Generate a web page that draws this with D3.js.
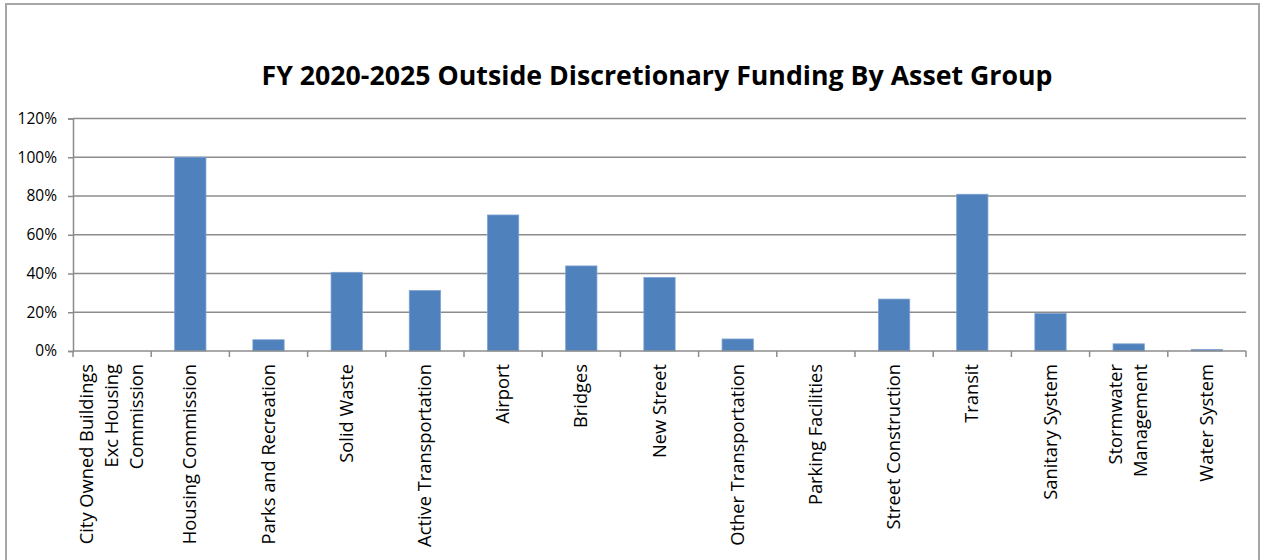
<!DOCTYPE html>
<html>
<head>
<meta charset="utf-8">
<script src="https://cdn.jsdelivr.net/npm/d3@7"></script>
<style>
  body { margin: 0; background: #fff; }
  text { font-family: "Open Sans", "Noto Sans", sans-serif; fill: #000; }
</style>
</head>
<body>
<svg id="chart" width="1265" height="560"></svg>
<script>
// Asset groups (line breaks mark wrapped axis labels)
const categories = [
  "City Owned Buildings\nExc Housing\nCommission",
  "Housing Commission",
  "Parks and Recreation",
  "Solid Waste",
  "Active Transportation",
  "Airport",
  "Bridges",
  "New Street",
  "Other Transportation",
  "Parking Facilities",
  "Street Construction",
  "Transit",
  "Sanitary System",
  "Stormwater\nManagement",
  "Water System"
];

// Share of funding from outside discretionary sources, percent
const outsideShare = [0, 100, 5.8, 40.6, 31.2, 70.2, 43.9, 37.9, 6.2, 0, 26.8, 80.9, 19.4, 3.7, 0.8];

const yTickValues = [0, 20, 40, 60, 80, 100, 120];

const chartTitle = "FY 2020-2025 Outside Discretionary Funding By Asset Group";

const plot = { left: 73, right: 1246, top: 118.5, bottom: 351 };

const svg = d3.select("#chart");

// chart frame
svg.append("rect")
  .attr("x", 6).attr("y", 4)
  .attr("width", 1253).attr("height", 600)
  .attr("fill", "#fff")
  .attr("stroke", "#a6a6a6")
  .attr("stroke-width", 2);

const x = d3.scaleBand()
  .domain(categories)
  .range([plot.left, plot.right])
  .paddingInner(0.6)
  .paddingOuter(0.3);

const y = d3.scaleLinear()
  .domain([0, 120])
  .range([plot.bottom, plot.top]);

// horizontal gridlines
svg.append("g")
  .selectAll("line")
  .data(yTickValues.filter(d => d > 0))
  .join("line")
  .attr("x1", plot.left).attr("x2", plot.right)
  .attr("y1", d => y(d)).attr("y2", d => y(d))
  .attr("stroke", "#8c8c8c")
  .attr("stroke-width", 1.5);

// bars
svg.append("g")
  .selectAll("rect")
  .data(categories.map((c, i) => ({ c, v: outsideShare[i] })).filter(d => d.v > 0))
  .join("rect")
  .attr("x", d => x(d.c))
  .attr("width", x.bandwidth())
  .attr("y", d => y(d.v))
  .attr("height", d => y(0) - y(d.v))
  .attr("fill", "#4f81bd")
  .attr("stroke", "#7ea2d2")
  .attr("stroke-width", 0.8);

// y axis
const yAxis = svg.append("g")
  .attr("transform", `translate(${plot.left},0)`)
  .call(d3.axisLeft(y).tickValues(yTickValues).tickSize(5).tickPadding(11)
    .tickFormat(d => d + "%"));
yAxis.select(".domain").attr("stroke", "#8c8c8c").attr("stroke-width", 1.5);
yAxis.selectAll(".tick line").attr("stroke", "#8c8c8c").attr("stroke-width", 1.5);
yAxis.selectAll(".tick text")
  .style("font-family", "'Open Sans', sans-serif")
  .style("font-size", "15.5px")
  .attr("fill", "#000");

// x axis baseline and category boundary ticks
const step = x.step();
const boundaries = d3.range(categories.length + 1).map(i =>
  i < categories.length ? x(categories[i]) + x.bandwidth() / 2 - step / 2
                        : x(categories[i - 1]) + x.bandwidth() / 2 + step / 2);
svg.append("line")
  .attr("x1", plot.left).attr("x2", plot.right)
  .attr("y1", y(0)).attr("y2", y(0))
  .attr("stroke", "#8c8c8c").attr("stroke-width", 1.5);
svg.append("g")
  .selectAll("line")
  .data(boundaries)
  .join("line")
  .attr("x1", d => d).attr("x2", d => d)
  .attr("y1", y(0)).attr("y2", y(0) + 6)
  .attr("stroke", "#8c8c8c").attr("stroke-width", 1.5);

// rotated category labels
const lineGap = 25;
const labels = svg.append("g")
  .selectAll("g")
  .data(categories)
  .join("g")
  .attr("transform", d => `translate(${x(d) + x.bandwidth() / 2},${y(0) + 13}) rotate(-90)`);
labels.each(function (d) {
  const lines = d.split("\n");
  const t = d3.select(this).append("text")
    .attr("text-anchor", "end")
    .style("font-size", "18.3px");
  lines.forEach((ln, i) => {
    t.append("tspan")
      .attr("x", 0)
      .attr("y", (i - (lines.length - 1) / 2) * lineGap + 6)
      .text(ln);
  });
});

// title
const titleText = svg.append("text")
  .attr("x", 657)
  .attr("y", 85)
  .attr("text-anchor", "middle")
  .style("font-weight", "bold")
  .style("font-size", "26px")
  .text(chartTitle);
const tw = titleText.node().getComputedTextLength();
titleText.style("font-size", (26 * 791 / tw).toFixed(2) + "px");
</script>
</body>
</html>
